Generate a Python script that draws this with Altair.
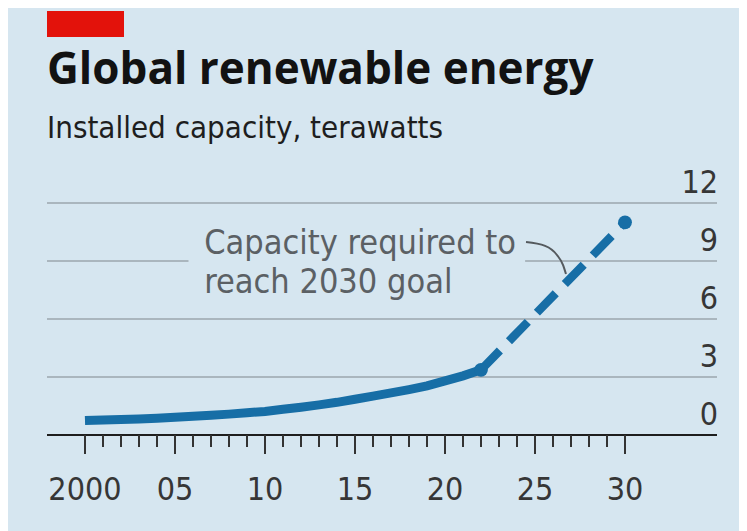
import altair as alt
import pandas as pd

# ---- data ----
years = list(range(2000, 2023))
capacity = [0.75, 0.78, 0.80, 0.83, 0.87, 0.92, 0.97, 1.02, 1.08, 1.15, 1.22,
            1.33, 1.44, 1.56, 1.69, 1.85, 2.01, 2.18, 2.35, 2.54, 2.80, 3.06, 3.37]
goal_years = [2022, 2030]
goal_capacity = [3.37, 11.0]
y_ticks = [0, 3, 6, 9, 12]
grid_values = [3, 6, 9, 12]
x_minor_ticks = list(range(2000, 2031))
x_major_ticks = list(range(2000, 2031, 5))
x_tick_labels = ["2000", "05", "10", "15", "20", "25", "30"]
annotation_lines = ["Capacity required to", "reach 2030 goal"]
annotation_x = [2006.62, 2006.62]
annotation_y = [9.36, 7.35]
connector_x = [2024.5, 2025.56, 2026.22, 2026.56, 2026.72]
connector_y = [9.98, 9.78, 9.31, 8.79, 8.33]
mask_x = [2005.75, 2024.45]
mask_y = [8.7, 9.3]

TITLE = "Global renewable energy"
SUBTITLE = "Installed capacity, terawatts"

# ---- styles ----
BG = "#d6e6f0"
GRID = "#aab6be"
BLUE = "#176ea6"
RED = "#e3120b"
NARROW = "DejaVu Sans Condensed, Liberation Sans Narrow, Roboto, sans-serif"
BOLD = "Open Sans, Noto Sans, sans-serif"

W, H = 670, 232

xscale = alt.Scale(domain=[1997.89, 2035.11], nice=False, zero=False)
yscale = alt.Scale(domain=[0, 12], nice=False, zero=True)

hist = pd.DataFrame({"year": years, "value": capacity})
goal = pd.DataFrame({"year": goal_years, "value": goal_capacity})
minor = pd.DataFrame({"year": x_minor_ticks})
major = pd.DataFrame({"year": x_major_ticks, "label": x_tick_labels})
grid = pd.DataFrame({"v": grid_values})
ylab = pd.DataFrame({"v": y_ticks, "label": [str(v) for v in y_ticks]})
ann = pd.DataFrame({"x": annotation_x, "y": annotation_y, "t": annotation_lines})
conn = pd.DataFrame({"x": connector_x, "y": connector_y})
mask = pd.DataFrame({"x0": [mask_x[0]], "x1": [mask_x[1]], "y0": [mask_y[0]], "y1": [mask_y[1]]})
one = pd.DataFrame({"k": [0]})

X = lambda f: alt.X(f, scale=xscale, axis=None)
Y = lambda f: alt.Y(f, scale=yscale, axis=None)

gridlines = alt.Chart(grid).mark_rule(color=GRID, strokeWidth=2).encode(
    y=Y("v:Q"), x=alt.value(0), x2=alt.value(W),
)
mask_rect = alt.Chart(mask).mark_rect(color=BG).encode(
    x=X("x0:Q"), x2="x1:Q", y=Y("y0:Q"), y2="y1:Q",
)
y_labels = alt.Chart(ylab).mark_text(
    align="right", baseline="alphabetic", dy=-10, font=NARROW, fontSize=32, color="#363636"
).encode(y=Y("v:Q"), x=alt.value(W + 1), text="label:N")

baseline_rule = alt.Chart(one).mark_rule(color="#1e1e1e", strokeWidth=2).encode(
    y=alt.value(H), x=alt.value(0), x2=alt.value(W),
)
ticks_minor = alt.Chart(minor).mark_rule(color="#333333", strokeWidth=2).encode(
    x=X("year:Q"), y=alt.value(H), y2=alt.value(H + 12),
)
ticks_major = alt.Chart(major).mark_rule(color="#333333", strokeWidth=2).encode(
    x=X("year:Q"), y=alt.value(H), y2=alt.value(H + 19),
)
x_labels = alt.Chart(major).mark_text(
    align="center", baseline="alphabetic", font=NARROW, fontSize=32, color="#363636"
).encode(x=X("year:Q"), y=alt.value(H + 65), text="label:N")

line_hist = alt.Chart(hist).mark_line(color=BLUE, strokeWidth=9, strokeCap="butt").encode(
    x=X("year:Q"), y=Y("value:Q"),
)
line_goal = alt.Chart(goal).mark_line(color=BLUE, strokeWidth=8.5, strokeDash=[27, 13], strokeCap="butt").encode(
    x=X("year:Q"), y=Y("value:Q"),
)
dots = alt.Chart(goal).mark_circle(color=BLUE, opacity=1, size=190).encode(
    x=X("year:Q"), y=Y("value:Q"),
)

ann_text = alt.Chart(ann).mark_text(
    align="left", baseline="alphabetic", font=NARROW, fontSize=34, color="#5b6064"
).encode(x=X("x:Q"), y=Y("y:Q"), text="t:N")
connector = alt.Chart(conn).mark_line(color="#555a5e", strokeWidth=2, interpolate="monotone").encode(
    x=X("x:Q"), y=Y("y:Q"),
)

red_bar = alt.Chart(one).mark_rect(color=RED).encode(
    x=alt.value(0), x2=alt.value(77), y=alt.value(-192), y2=alt.value(-166),
)

chart = alt.layer(
    gridlines, mask_rect, y_labels, baseline_rule, ticks_minor, ticks_major, x_labels,
    line_hist, line_goal, dots, ann_text, connector, red_bar,
).properties(
    width=W, height=H,
    title=alt.TitleParams(
        text=TITLE, subtitle=SUBTITLE, anchor="start", frame="group", orient="top",
        font=BOLD, fontSize=44, fontWeight="bold", color="#121212",
        subtitleFont=NARROW, subtitleFontSize=31, subtitleColor="#1e1e1e",
        subtitlePadding=21, offset=-133,
    ),
    autosize=alt.AutoSizeParams(type="none"),
    padding={"left": 39, "right": 22, "top": 195, "bottom": 96},
    background=BG,
).configure_view(stroke=None)

chart.save("out.html", embed_options={"renderer": "svg", "actions": False})
